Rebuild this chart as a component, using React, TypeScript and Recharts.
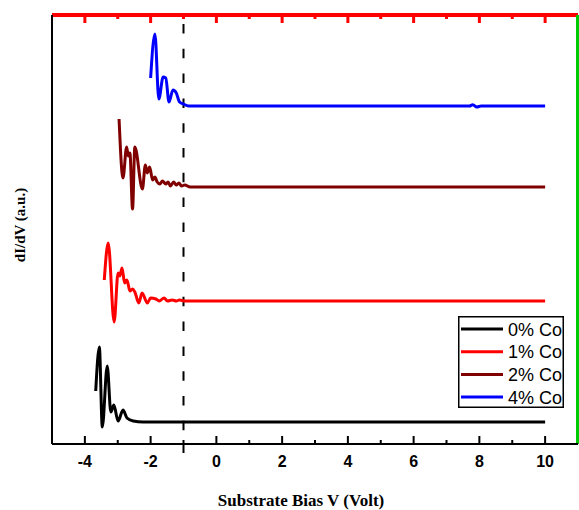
import { LineChart, Line, XAxis, YAxis, ReferenceLine, Legend } from 'recharts';

// bias (V) vs dI/dV (a.u., curves offset vertically)
const co0: [number, number][] = [
  [-3.67, 53], [-3.56, 97], [-3.47, 17], [-3.32, 78], [-3.21, 32], [-3.12, 39],
  [-2.99, 23], [-2.84, 34], [-2.72, 26], [-2.53, 23], [-2.23, 22], [-1.0, 22], [10, 22]
];
const co1: [number, number][] = [
  [-3.41, 164], [-3.29, 201], [-3.11, 122], [-2.99, 171], [-2.94, 168], [-2.87, 176],
  [-2.79, 161], [-2.72, 164], [-2.63, 153], [-2.55, 155], [-2.48, 152], [-2.36, 141],
  [-2.26, 151], [-2.1, 141], [-2.0, 146], [-1.84, 145], [-1.74, 143], [-1.59, 146],
  [-1.49, 143], [-1.34, 144], [-1.22, 143], [-1.12, 144], [-0.96, 143], [10, 143]
];
const co2: [number, number][] = [
  [-2.96, 325], [-2.84, 266], [-2.73, 297], [-2.68, 288], [-2.63, 291], [-2.55, 235],
  [-2.48, 297], [-2.25, 255], [-2.16, 279], [-2.1, 271], [-2.03, 277], [-1.94, 264],
  [-1.87, 267], [-1.8, 262], [-1.72, 260], [-1.64, 263], [-1.54, 260], [-1.47, 262],
  [-1.4, 258], [-1.3, 262], [-1.22, 259], [-1.14, 261], [-1.06, 258], [-0.96, 259],
  [-0.8, 257], [10, 257]
];
const co4: [number, number][] = [
  [-2.0, 366], [-1.87, 410], [-1.75, 345], [-1.62, 367], [-1.54, 366], [-1.44, 342],
  [-1.32, 354], [-1.22, 351], [-1.12, 342], [-1.0, 340], [-0.85, 338], [7.7, 338],
  [7.8, 339.3], [7.92, 337], [8.05, 338], [10, 338]
];

const seriesNames = ['0% Co', '1% Co', '2% Co', '4% Co'];
const seriesColors = ['#000000', '#ff0000', '#800000', '#0000ff'];
const seriesData = [co0, co1, co2, co4];

const xDomain = [-5, 11];
const yDomain = [0, 429];
const majorTicks = [-4, -2, 0, 2, 4, 6, 8, 10];
const minorTicks = [-3, -1, 1, 3, 5, 7, 9];
const xTicks = [...majorTicks, ...minorTicks].sort((a, b) => a - b);

const PLOT_TOP = 15;

const toRows = (pts: [number, number][]) => pts.map(([x, y]) => ({ x, y }));

// draws the tick on the bottom axis and its mirror on the top frame
function BiasTick({ x, y, payload }: any) {
  const v = payload.value;
  const major = majorTicks.includes(v);
  const len = major ? 8 : 4;
  return (
    <g>
      <line x1={x} x2={x} y1={y} y2={y - len} stroke='#000' strokeWidth={2} />
      <line x1={x} x2={x} y1={PLOT_TOP} y2={PLOT_TOP + len} stroke='#f00' strokeWidth={3} />
      {v === -1 && <line x1={x} x2={x} y1={y} y2={y + 9} stroke='#000' strokeWidth={2} />}
      {major && (
        <text
          x={x}
          y={y + 23}
          textAnchor='middle'
          fontFamily='Liberation Sans, Arial, sans-serif'
          fontWeight='bold'
          fontSize={16}
          fill='#000'
        >
          {v}
        </text>
      )}
    </g>
  );
}

function LegendBox() {
  return (
    <svg width={106} height={92} style={{ display: 'block', overflow: 'hidden' }}>
      <rect x={0.75} y={0.75} width={104.5} height={90.5} fill='#fff' stroke='#000' strokeWidth={1.5} />
      {seriesNames.map((name, i) => {
        const cy = 13 + i * 22.7;
        return (
          <g key={name}>
            <line x1={3} x2={45} y1={cy} y2={cy} stroke={seriesColors[i]} strokeWidth={3} />
            <text x={50} y={cy + 6.5} fontFamily='Liberation Sans, Arial, sans-serif' fontSize={18} fill='#000'>
              {name}
            </text>
          </g>
        );
      })}
    </svg>
  );
}

export default function App() {
  return (
    <div style={{ position: 'absolute', left: 0, top: 0, background: '#fff' }}>
      <LineChart width={579} height={510} margin={{ top: PLOT_TOP, right: 1, bottom: 36, left: 0 }}>
        <XAxis
          dataKey='x'
          type='number'
          domain={xDomain}
          ticks={xTicks}
          interval={0}
          height={30}
          tickSize={0}
          tickMargin={0}
          tickLine={false}
          axisLine={{ stroke: '#000', strokeWidth: 2 }}
          tick={<BiasTick />}
          label={{
            content: () => (
              <text
                x={301}
                y={506}
                textAnchor='middle'
                fontFamily='Liberation Serif, Times New Roman, serif'
                fontWeight='bold'
                fontSize={17}
                fill='#000'
              >
                Substrate Bias V (Volt)
              </text>
            )
          }}
        />
        <YAxis
          type='number'
          domain={yDomain}
          width={52}
          tick={false}
          tickLine={false}
          axisLine={{ stroke: '#000', strokeWidth: 2 }}
          label={{
            content: () => (
              <text
                transform='translate(25,225) rotate(-90)'
                textAnchor='middle'
                fontFamily='Liberation Serif, Times New Roman, serif'
                fontWeight='bold'
                fontSize={15}
                fill='#000'
              >
                dI/dV (a.u.)
              </text>
            )
          }}
        />
        {/* top and right edges of the frame */}
        <ReferenceLine y={yDomain[1]} stroke='#f00' strokeWidth={4} />
        <ReferenceLine x={xDomain[1]} stroke='#0c0' strokeWidth={4} />
        <ReferenceLine x={-1} stroke='#000' strokeWidth={2} strokeDasharray='9.5 15.3' strokeDashoffset={11.1} />
        {seriesData.map((pts, i) => (
          <Line
            key={seriesNames[i]}
            name={seriesNames[i]}
            data={toRows(pts)}
            dataKey='y'
            type='monotone'
            stroke={seriesColors[i]}
            strokeWidth={3}
            dot={false}
            isAnimationActive={false}
          />
        ))}
        <Legend
          layout='vertical'
          align='center'
          verticalAlign='middle'
          wrapperStyle={{ left: 458, top: 316, width: 106, height: 92 }}
          content={() => <LegendBox />}
        />
      </LineChart>
    </div>
  );
}
